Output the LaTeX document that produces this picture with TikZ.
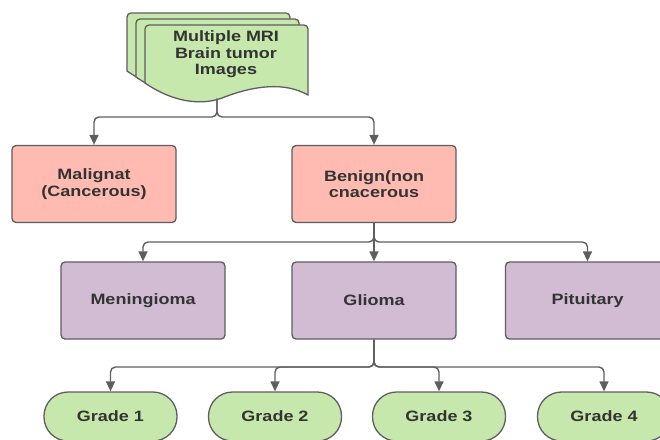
\documentclass[tikz,border=0pt]{standalone}
\usepackage{fontspec}
\newfontfamily\lbl{Liberation Sans Bold}[FakeStretch=1.2]
\usetikzlibrary{arrows.meta}
\definecolor{edge}{HTML}{5E5E5E}
\definecolor{txt}{HTML}{333333}
\definecolor{pinkfill}{HTML}{FFBBB1}
\definecolor{purplefill}{HTML}{D2BCD3}
\definecolor{greenfill}{HTML}{C7E8AC}
\tikzset{
  label/.style={font={\lbl\fontsize{15}{16.5}\selectfont}, text=txt, align=center},
  box/.style={label, draw=edge, line width=1.3pt, rounded corners=4pt,
              minimum width=164pt, minimum height=77pt, inner sep=0pt},
  pinkbox/.style={box, fill=pinkfill},
  purplebox/.style={box, fill=purplefill},
  gradebox/.style={label, draw=edge, fill=greenfill, line width=1.3pt,
              rounded corners=24pt, minimum width=133pt, minimum height=49pt, inner sep=0pt},
  docpage/.style={draw=edge, fill=greenfill, line width=1.3pt},
  conn/.style={draw=edge, line width=1.4pt, rounded corners=5pt,
               -{Triangle[length=10pt,width=9pt]}}
}
\begin{document}
\begin{tikzpicture}[x=1pt,y=-1pt]
\useasboundingbox (0,0) rectangle (660,439);

% stacked document pages, back to front
\foreach \dx/\dy in {-18/-12,-9/-6,0/0}{
  \path[docpage, shift={(\dx,\dy)}]
    (145,83) [rounded corners=4pt] -- (145,25) -- (308,25) [sharp corners] -- (308,95)
    .. controls (285,82) and (255,85) .. (222,98)
    .. controls (195,108) and (165,97) .. (145,83) -- cycle;
}
\node[label] (doc) at (226,54.5) {Multiple MRI\\Brain tumor\\Images};
\coordinate (docb) at (217,98.5);

% categories
\node[pinkbox] (mal) at (94,184) {Malignat\\(Cancerous)};
\node[pinkbox] (ben) at (374,184) {Benign(non\\cnacerous};

% tumour types
\node[purplebox] (men) at (143,300.5) {Meningioma};
\node[purplebox] (gli) at (374,300.5) {Glioma};
\node[purplebox] (pit) at (587.5,300.5) {Pituitary};

% grades
\node[gradebox] (g1) at (110.5,416.5) {Grade 1};
\node[gradebox] (g2) at (275,416.5) {Grade 2};
\node[gradebox] (g3) at (439,416.5) {Grade 3};
\node[gradebox] (g4) at (604,416.5) {Grade 4};

% junction points of the connectors
\coordinate (j1) at (217,117);
\coordinate (j2) at (374,242);
\coordinate (j3) at (374,367);

\path[conn] (docb) -- (j1) -| (mal.north);
\path[conn] (docb) -- (j1) -| (ben.north);

\path[conn] (ben.south) -- (j2) -| (men.north);
\path[conn] (ben.south) -- (j2) -| (pit.north);
\path[conn] (ben.south) -- (gli.north);

\path[conn] (gli.south) -- (j3) -| (g1.north);
\path[conn] (gli.south) -- (j3) -| (g2.north);
\path[conn] (gli.south) -- (j3) -| (g3.north);
\path[conn] (gli.south) -- (j3) -| (g4.north);
\end{tikzpicture}
\end{document}
